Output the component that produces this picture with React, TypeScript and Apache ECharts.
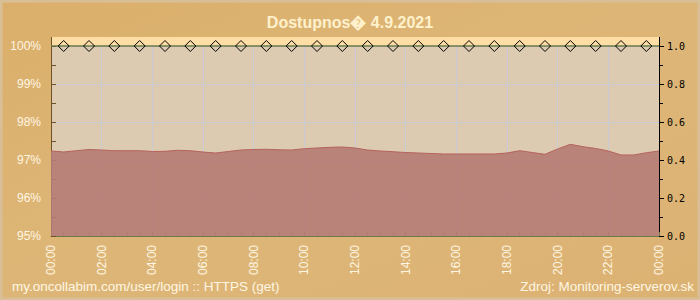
import React, { useEffect, useRef } from "react";
import * as echarts from "echarts";

const titleText = "Dostupnos\uFFFD 4.9.2021";
const footerLeft = "my.oncollabim.com/user/login :: HTTPS (get)";
const footerRight = "Zdroj: Monitoring-serverov.sk";

const sampleTimes = [
  "00:00", "00:30", "01:00", "01:30", "02:00", "02:30", "03:00", "03:30",
  "04:00", "04:30", "05:00", "05:30", "06:00", "06:30", "07:00", "07:30",
  "08:00", "08:30", "09:00", "09:30", "10:00", "10:30", "11:00", "11:30",
  "12:00", "12:30", "13:00", "13:30", "14:00", "14:30", "15:00", "15:30",
  "16:00", "16:30", "17:00", "17:30", "18:00", "18:30", "19:00", "19:30",
  "20:00", "20:30", "21:00", "21:30", "22:00", "22:30", "23:00", "23:30",
  "24:00",
];

const availabilityPct = [
  97.237, 97.211, 97.245, 97.276, 97.263, 97.245, 97.245, 97.245,
  97.224, 97.229, 97.255, 97.245, 97.21, 97.184, 97.224, 97.263,
  97.276, 97.282, 97.268, 97.263, 97.297, 97.316, 97.334, 97.342,
  97.316, 97.263, 97.237, 97.218, 97.197, 97.184, 97.171, 97.158,
  97.158, 97.158, 97.158, 97.158, 97.184, 97.245, 97.197, 97.15,
  97.29, 97.413, 97.35, 97.303, 97.237, 97.132, 97.132, 97.19,
  97.237,
];

const checkTimes = [
  "00:30", "01:30", "02:30", "03:30", "04:30", "05:30", "06:30", "07:30",
  "08:30", "09:30", "10:30", "11:30", "12:30", "13:30", "14:30", "15:30",
  "16:30", "17:30", "18:30", "19:30", "20:30", "21:30", "22:30", "23:30",
];
const checkValues = [
  1, 1, 1, 1, 1, 1, 1, 1, 1, 1, 1, 1,
  1, 1, 1, 1, 1, 1, 1, 1, 1, 1, 1, 1,
];

const leftTicks = [95, 96, 97, 98, 99, 100];
const rightTicks = [0, 0.2, 0.4, 0.6, 0.8, 1.0];

const toHours = (s: string) => {
  const [h, m] = s.split(":").map(Number);
  return h + m / 60;
};

export default function App() {
  const ref = useRef<HTMLDivElement>(null);
  useEffect(() => {
    document.body.style.margin = "0";
    if (!ref.current) return;
    const chart = echarts.init(ref.current, undefined, { renderer: "svg" });

    const GL = 51, GR = 41, GT = 46, GB = 64;
    const plotW = 700 - GL - GR;

    const areaData = sampleTimes.map((t, i) => [toHours(t), availabilityPct[i]]);
    const checkData: any[] = [
      { value: [0, 1], symbol: "none" },
      ...checkTimes.map((t, i) => [toHours(t), checkValues[i]]),
      { value: [24, 1], symbol: "none" },
    ];

    chart.setOption({
      animation: false,
      backgroundColor: new echarts.graphic.LinearGradient(0, 0, 1, 1, [
        { offset: 0, color: "#dbaf6b" },
        { offset: 0.5, color: "#ddb677" },
        { offset: 1, color: "#dcb273" },
      ]),
      textStyle: { fontFamily: "Liberation Sans, Arial, sans-serif" },
      graphic: [
        {
          type: "rect",
          shape: { x: 1, y: 1, width: 698, height: 298 },
          style: { fill: "none", stroke: "#d8bf98", lineWidth: 3 },
          silent: true,
        },
        {
          type: "rect",
          shape: { x: GL, y: 37, width: plotW, height: GT - 37 },
          style: { fill: "#ffdea6" },
          silent: true,
        },
        {
          type: "line",
          shape: { x1: GL + 0.5, y1: 37, x2: GL + 0.5, y2: GT },
          style: { stroke: "#6b5228", lineWidth: 1 },
          silent: true,
        },
        {
          type: "line",
          shape: { x1: GL + plotW + 0.5, y1: 37, x2: GL + plotW + 0.5, y2: GT },
          style: { stroke: "#000000", lineWidth: 1 },
          silent: true,
        },
        {
          type: "text",
          x: 350,
          y: 22,
          style: {
            text: titleText,
            fill: "#fff1cc",
            font: "bold 16px 'Liberation Sans', Arial, sans-serif",
            textAlign: "center",
            textVerticalAlign: "middle",
          },
        },
        {
          type: "text",
          x: 12,
          y: 286,
          style: {
            text: footerLeft,
            fill: "#fff6e2",
            font: "13.5px 'Liberation Sans', Arial, sans-serif",
            textAlign: "left",
            textVerticalAlign: "middle",
          },
        },
        {
          type: "text",
          x: 694,
          y: 286,
          style: {
            text: footerRight,
            fill: "#fff6e2",
            font: "13.5px 'Liberation Sans', Arial, sans-serif",
            textAlign: "right",
            textVerticalAlign: "middle",
          },
        },
      ],
      grid: {
        left: GL,
        right: GR,
        top: GT,
        bottom: GB,
        show: true,
        backgroundColor: "#dccbb1",
        borderWidth: 0,
      },
      xAxis: {
        type: "value",
        min: 0,
        max: 24,
        interval: 2,
        axisLine: { show: true, lineStyle: { color: "#6b7a4a", width: 1 } },
        axisTick: { show: true, inside: true, length: 4, lineStyle: { color: "#6b7a4a" } },
        minorTick: { show: true, splitNumber: 4, length: 3, lineStyle: { color: "#6b7a4a" } },
        splitLine: { show: true, lineStyle: { color: "#c9cad4", width: 1 } },
        axisLabel: {
          rotate: 90,
          margin: 9,
          color: "#fff6e2",
          fontSize: 12,
          fontFamily: "Liberation Sans, Arial, sans-serif",
          formatter: (v: number) => {
            const h = Math.round(v) % 24;
            return (h < 10 ? "0" : "") + h + ":00";
          },
        },
      },
      yAxis: [
        {
          type: "value",
          position: "left",
          min: leftTicks[0],
          max: leftTicks[leftTicks.length - 1],
          interval: 1,
          axisLine: { show: true, lineStyle: { color: "#6b5228", width: 1 } },
          axisTick: { show: true, inside: true, length: 5, lineStyle: { color: "#6b5228" } },
          minorTick: { show: true, splitNumber: 2, length: 5, lineStyle: { color: "#6b5228" } },
          splitLine: { show: true, lineStyle: { color: "#c9cad4", width: 1 } },
          axisLabel: {
            margin: 10,
            color: "#fff6e2",
            fontSize: 12,
            fontFamily: "Liberation Sans, Arial, sans-serif",
            formatter: (v: number) => v + "%",
          },
        },
        {
          type: "value",
          position: "right",
          min: rightTicks[0],
          max: rightTicks[rightTicks.length - 1],
          interval: 0.2,
          axisLine: { show: true, lineStyle: { color: "#000000", width: 1 } },
          axisTick: { show: true, inside: false, length: 5, lineStyle: { color: "#000000" } },
          minorTick: { show: true, splitNumber: 2, length: 4, lineStyle: { color: "#000000" } },
          splitLine: { show: false },
          axisLabel: {
            margin: 8,
            color: "#000000",
            fontSize: 10,
            fontFamily: "DejaVu Sans Mono, monospace",
            formatter: (v: number) => v.toFixed(1),
          },
        },
      ],
      series: [
        {
          type: "line",
          yAxisIndex: 0,
          data: areaData,
          showSymbol: false,
          symbol: "none",
          lineStyle: { color: "#b5625c", width: 1 },
          areaStyle: { color: "rgb(181,123,116)", opacity: 0.9, origin: "start" },
          z: 2,
        },
        {
          type: "line",
          yAxisIndex: 1,
          data: checkData,
          symbol: "diamond",
          symbolSize: [11, 11],
          showAllSymbol: true,
          clip: false,
          lineStyle: { color: "#6b7a4a", width: 1.5 },
          itemStyle: { color: "none", borderColor: "#000000", borderWidth: 1 },
          z: 3,
        },
      ],
    });
    return () => chart.dispose();
  }, []);
  return <div ref={ref} style={{ width: 700, height: 300 }} />;
}
